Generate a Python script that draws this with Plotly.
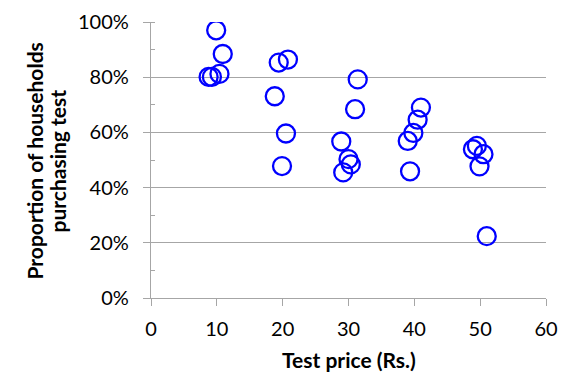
import plotly.graph_objects as go

# Test price (Rs.)
price = [9.9, 10.9, 10.4, 9.25, 8.75,
         19.4, 20.8, 18.8, 20.5, 19.9,
         31.4, 31.0, 28.9, 30.0, 30.35, 29.2,
         41.0, 40.5, 39.85, 39.0, 39.35,
         48.9, 49.5, 50.5, 49.9, 51.0]
# Proportion of households purchasing test (%)
share = [97.0, 88.4, 81.2, 80.1, 80.1,
         85.3, 86.4, 73.1, 59.6, 47.8,
         79.2, 68.4, 56.7, 50.3, 48.4, 45.5,
         69.0, 64.6, 59.8, 56.9, 45.9,
         53.9, 55.1, 52.1, 47.7, 22.4]

x_ticks = [0, 10, 20, 30, 40, 50, 60]
y_ticks = [0, 0.2, 0.4, 0.6, 0.8, 1.0]

FONT = "Lato"
GRID = "#A6A6A6"

fig = go.Figure()
fig.add_trace(go.Scatter(
    x=price, y=[v / 100 for v in share], mode="markers",
    marker=dict(symbol="circle-open", size=18, color="#0000FF",
                line=dict(width=2.3, color="#0000FF")),
    showlegend=False, hoverinfo="x+y"))

# the page body adds an 8px offset, so the figure is sized to fit inside the window
fig.update_layout(
    width=568, height=383,
    margin=dict(l=143, r=30, t=14, b=93),
    paper_bgcolor="white", plot_bgcolor="white",
    font=dict(family=FONT, size=20, color="#000000"),
)
fig.update_xaxes(
    range=[0, 60], tickvals=x_ticks, ticks="outside", ticklen=7,
    tickcolor=GRID, tickwidth=1.3, showline=True, linecolor=GRID,
    linewidth=1.3, showgrid=False, zeroline=False, ticklabelstandoff=6,
    automargin=False,
)
fig.update_yaxes(
    range=[0, 1], tickvals=y_ticks, tickformat=".0%", ticks="outside",
    ticklen=7, tickcolor=GRID, tickwidth=1.3, showline=True,
    linecolor=GRID, linewidth=1.3, showgrid=True, gridcolor=GRID,
    gridwidth=1.3, zeroline=False, ticklabelstandoff=10, automargin=False,
    minor=dict(dtick=0.1, ticks="inside", ticklen=4, tickcolor=GRID,
               tickwidth=1.3, showgrid=False),
)

title_font = dict(family=FONT, size=21, color="#000000", weight="bold")
fig.add_annotation(text="Test price (Rs.)", xref="paper", yref="paper",
                   x=0.5, y=0, yshift=-61, xanchor="center", yanchor="middle",
                   showarrow=False, font=title_font)
fig.add_annotation(text="Proportion of households", xref="paper", yref="paper",
                   x=0, y=0.5, xshift=-117.5, yshift=-1, xanchor="center",
                   yanchor="middle", textangle=-90, showarrow=False,
                   font=title_font)
fig.add_annotation(text="purchasing test", xref="paper", yref="paper",
                   x=0, y=0.5, xshift=-94.5, yshift=-1, xanchor="center",
                   yanchor="middle", textangle=-90, showarrow=False,
                   font=title_font)

fig.write_html("out.html")
